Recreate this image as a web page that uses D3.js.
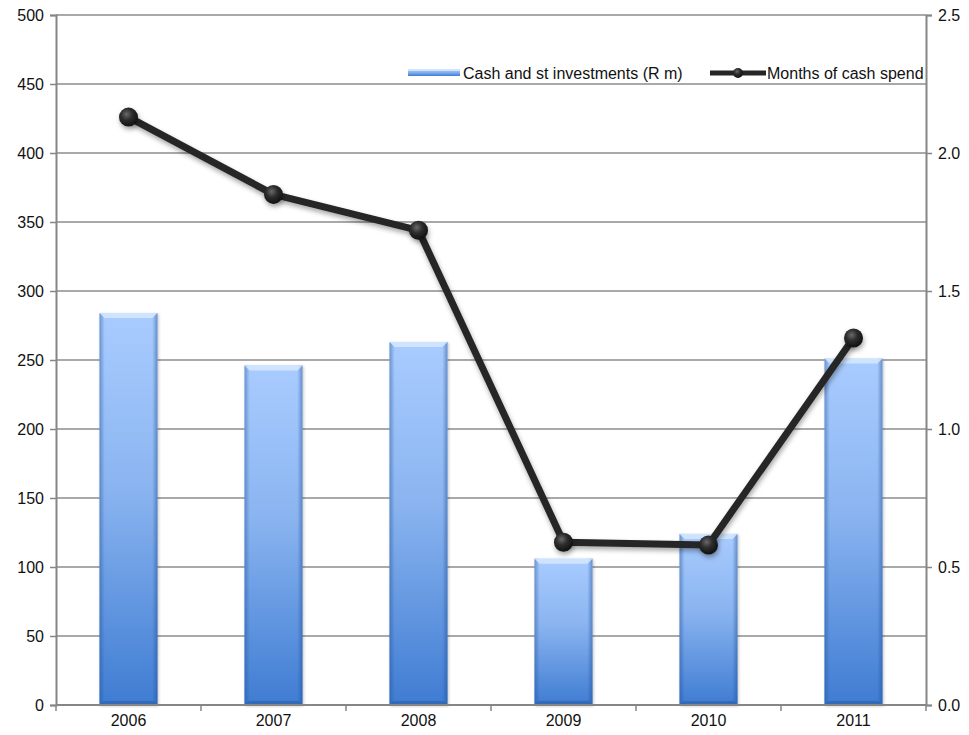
<!DOCTYPE html>
<html>
<head>
<meta charset="utf-8">
<script src="https://cdn.jsdelivr.net/npm/d3@7/dist/d3.min.js"></script>
<style>
  html, body { margin: 0; padding: 0; background: #fff; }
  svg text { font-family: "Liberation Sans", Arial, sans-serif; font-size: 16px; fill: #111; }
</style>
</head>
<body>
<svg id="chart" width="969" height="735"></svg>
<script>
// Cash position by year
const years = ["2006", "2007", "2008", "2009", "2010", "2011"];
const cashInvestments = [284, 246, 263, 106, 124, 251];      // R m
const monthsOfCashSpend = [2.13, 1.85, 1.72, 0.59, 0.58, 1.33];
const leftTicks = [0, 50, 100, 150, 200, 250, 300, 350, 400, 450, 500];
const rightTicks = [0, 0.5, 1.0, 1.5, 2.0, 2.5];
const seriesNames = ["Cash and st investments (R m)", "Months of cash spend"];

const svg = d3.select("#chart");
const margin = { left: 56, right: 43, top: 15, bottom: 30 };
const W = 969, H = 735;
const x0 = margin.left, x1 = W - margin.right, y0 = H - margin.bottom, y1 = margin.top;
const fontSize = "16px";

const x = d3.scaleBand().domain(years).range([x0, x1]).paddingInner(0.6).paddingOuter(0.3);
const xStep = d3.scaleBand().domain(years).range([x0, x1]);
const yL = d3.scaleLinear().domain([0, 500]).range([y0, y1]);
const yR = d3.scaleLinear().domain([0, 2.5]).range([y0, y1]);

const defs = svg.append("defs");
const barGrad = defs.append("linearGradient").attr("id", "barFill")
  .attr("x1", 0).attr("y1", 0).attr("x2", 0).attr("y2", 1);
barGrad.append("stop").attr("offset", "0%").attr("stop-color", "#a9ccff");
barGrad.append("stop").attr("offset", "45%").attr("stop-color", "#8ab4f0");
barGrad.append("stop").attr("offset", "100%").attr("stop-color", "#3f7cd2");

const sideGrad = defs.append("linearGradient").attr("id", "barSide")
  .attr("x1", 0).attr("y1", 0).attr("x2", 1).attr("y2", 0);
sideGrad.append("stop").attr("offset", "0%").attr("stop-color", "#1f4f96").attr("stop-opacity", 0.45);
sideGrad.append("stop").attr("offset", "9%").attr("stop-color", "#1f4f96").attr("stop-opacity", 0);
sideGrad.append("stop").attr("offset", "91%").attr("stop-color", "#1f4f96").attr("stop-opacity", 0);
sideGrad.append("stop").attr("offset", "100%").attr("stop-color", "#1f4f96").attr("stop-opacity", 0.5);

const dotGrad = defs.append("radialGradient").attr("id", "dotFill")
  .attr("cx", "40%").attr("cy", "35%").attr("r", "65%");
dotGrad.append("stop").attr("offset", "0%").attr("stop-color", "#6a6a6a");
dotGrad.append("stop").attr("offset", "45%").attr("stop-color", "#2e2e2e");
dotGrad.append("stop").attr("offset", "100%").attr("stop-color", "#111");

const shadow = defs.append("filter").attr("id", "shadow")
  .attr("x", "-50%").attr("y", "-50%").attr("width", "200%").attr("height", "200%");
shadow.append("feDropShadow").attr("dx", 1).attr("dy", 3).attr("stdDeviation", 2.5)
  .attr("flood-color", "#000").attr("flood-opacity", 0.35);

const barShadow = defs.append("filter").attr("id", "barShadow")
  .attr("x", "-20%").attr("y", "-10%").attr("width", "140%").attr("height", "120%");
barShadow.append("feDropShadow").attr("dx", 1).attr("dy", 1).attr("stdDeviation", 1.5)
  .attr("flood-color", "#000").attr("flood-opacity", 0.25);

// gridlines
svg.append("g").selectAll("line").data(leftTicks.slice(1)).join("line")
  .attr("x1", x0).attr("x2", x1)
  .attr("y1", d => yL(d)).attr("y2", d => yL(d))
  .attr("stroke", "#8c8c8c").attr("stroke-width", 1.3);

// bars
const bars = svg.append("g").selectAll("g").data(years).join("g");
bars.append("rect")
  .attr("x", d => x(d)).attr("width", x.bandwidth())
  .attr("y", (d, i) => yL(cashInvestments[i]))
  .attr("height", (d, i) => y0 - yL(cashInvestments[i]))
  .attr("fill", "url(#barFill)").attr("filter", "url(#barShadow)");
bars.append("rect")
  .attr("x", d => x(d)).attr("width", x.bandwidth())
  .attr("y", (d, i) => yL(cashInvestments[i]))
  .attr("height", (d, i) => y0 - yL(cashInvestments[i]))
  .attr("fill", "url(#barSide)");
// bevelled top and bottom edges
bars.append("path")
  .attr("d", (d, i) => {
    const l = x(d), r = l + x.bandwidth(), t = yL(cashInvestments[i]), b = 5;
    return `M${l},${t}L${r},${t}L${r - b},${t + b}L${l + b},${t + b}Z`;
  })
  .attr("fill", "#d6e8ff").attr("opacity", 0.85);
bars.append("path")
  .attr("d", (d, i) => {
    const l = x(d), r = l + x.bandwidth(), b = 4;
    return `M${l},${y0}L${r},${y0}L${r - b},${y0 - b}L${l + b},${y0 - b}Z`;
  })
  .attr("fill", "#2d5fa8").attr("opacity", 0.6);

// axes
const axisColor = "#868686";
const gL = svg.append("g").attr("transform", `translate(${x0},0)`)
  .call(d3.axisLeft(yL).tickValues(leftTicks).tickSize(6).tickPadding(6).tickFormat(d3.format("d")));
const gR = svg.append("g").attr("transform", `translate(${x1},0)`)
  .call(d3.axisRight(yR).tickValues(rightTicks).tickSize(6).tickPadding(6).tickFormat(d3.format(".1f")));
const gX = svg.append("g").attr("transform", `translate(0,${y0})`)
  .call(d3.axisBottom(xStep).tickSize(0).tickPadding(10));
[gL, gR, gX].forEach(g => {
  g.select(".domain").attr("stroke", axisColor).attr("stroke-width", 2);
  g.selectAll(".tick line").attr("stroke", axisColor).attr("stroke-width", 1.5);
  g.selectAll("text").attr("fill", "#111").style("font-size", fontSize)
    .style("font-family", '"Liberation Sans", Arial, sans-serif');
});
gX.select(".domain").attr("d", `M${x0},0H${x1}`);
// category boundary ticks
gX.append("g").selectAll("line").data(years.concat([null])).join("line")
  .attr("x1", (d, i) => x0 + i * xStep.step()).attr("x2", (d, i) => x0 + i * xStep.step())
  .attr("y1", 0).attr("y2", 6).attr("stroke", axisColor).attr("stroke-width", 1.5);

// line series
const lineGen = d3.line()
  .x((d, i) => xStep(years[i]) + xStep.bandwidth() / 2)
  .y(d => yR(d));
svg.append("path").datum(monthsOfCashSpend)
  .attr("d", lineGen).attr("fill", "none")
  .attr("stroke", "#262626").attr("stroke-width", 7).attr("stroke-linejoin", "round")
  .attr("filter", "url(#shadow)");
svg.append("g").selectAll("circle").data(monthsOfCashSpend).join("circle")
  .attr("cx", (d, i) => xStep(years[i]) + xStep.bandwidth() / 2)
  .attr("cy", d => yR(d)).attr("r", 9.5)
  .attr("fill", "url(#dotFill)").attr("filter", "url(#shadow)");

// legend
const lg = svg.append("g").attr("transform", "translate(0,73)");
lg.append("rect").attr("x", 408).attr("y", -4).attr("width", 52).attr("height", 7).attr("fill", "url(#barFill)");
lg.append("rect").attr("x", 408).attr("y", -4).attr("width", 52).attr("height", 2).attr("fill", "#cfe3ff");
lg.append("text").attr("x", 463).attr("y", 5.5).style("font-size", fontSize).text(seriesNames[0]);
lg.append("line").attr("x1", 710).attr("x2", 766).attr("y1", 0).attr("y2", 0)
  .attr("stroke", "#262626").attr("stroke-width", 5);
lg.append("circle").attr("cx", 738).attr("cy", 0).attr("r", 5).attr("fill", "url(#dotFill)");
lg.append("text").attr("x", 767).attr("y", 5.5).style("font-size", fontSize).text(seriesNames[1]);
</script>
</body>
</html>
